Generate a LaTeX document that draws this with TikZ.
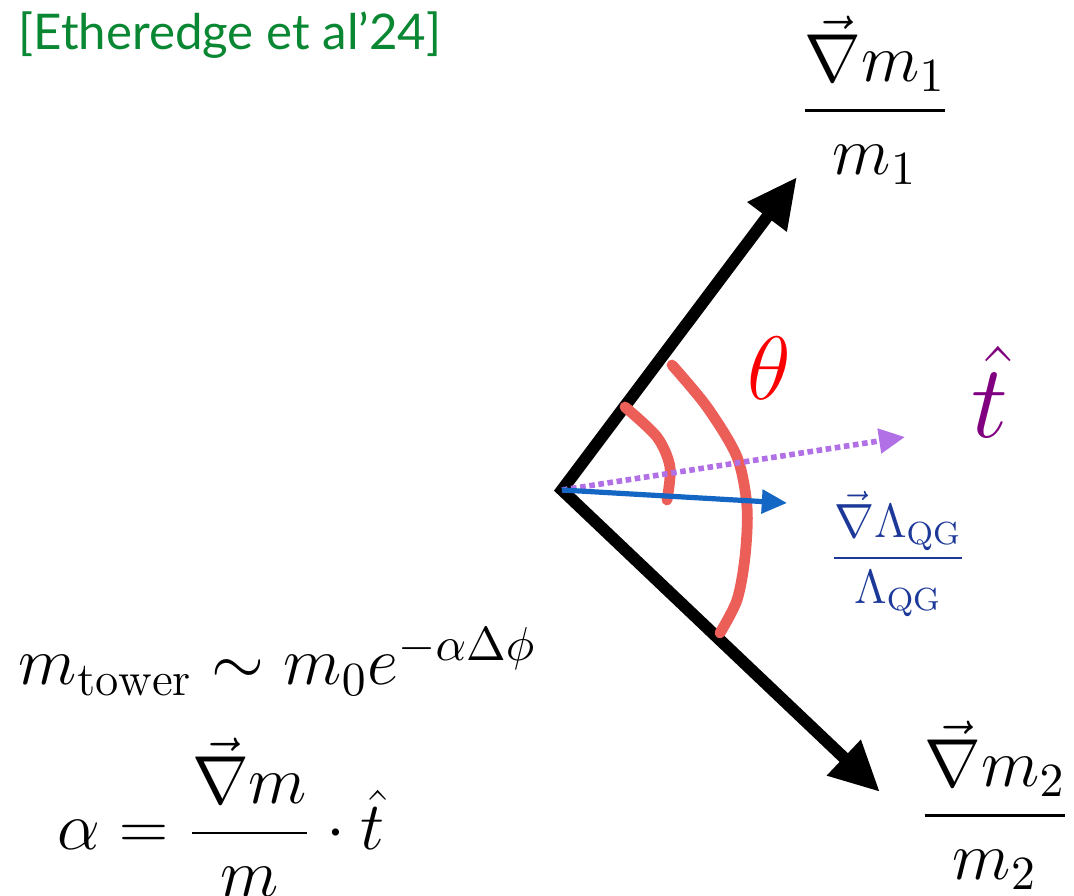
\RequirePackage{fix-cm}
\documentclass[tikz,border=0pt]{standalone}
\usepackage{amsmath}
\usepackage{fontspec}
\newfontfamily\fonteRef{Lato}
\usepackage{tikz}
\usetikzlibrary{arrows.meta}
\definecolor{corRef}{RGB}{10,135,50}
\definecolor{corArco}{RGB}{236,94,88}
\definecolor{corTheta}{RGB}{250,0,0}
\definecolor{corT}{RGB}{128,0,128}
\definecolor{corTraco}{RGB}{178,112,230}
\definecolor{corLambda}{RGB}{20,102,196}
\definecolor{corLambdaTxt}{RGB}{28,56,152}

\begin{document}
\begin{tikzpicture}[x=0.25pt, y=-0.25pt, every node/.style={inner sep=0pt}]
    \tikzstyle{grad}=[line width=3pt, line join=miter,
      {Triangle[length=12.5pt, width=11.5pt]}-{Triangle[length=12.5pt, width=11.5pt]}]
    \tikzstyle{arco}=[corArco, line width=2.7pt, line cap=round]
    \tikzstyle{formula}=[font=\fontsize{17}{20}\selectfont]
    \useasboundingbox (0,0) rectangle (1074,896);
    % vectors
    \coordinate (o) at (562,490);
    \coordinate (g1) at (797,177);
    \coordinate (g2) at (880,792);
    \coordinate (tt) at (905,437);
    \coordinate (gl) at (787,503);
    \draw[grad] (g1) -- (o) -- (g2);
    \draw[arco] plot[smooth] coordinates {(625,407) (657,437) (670,467) (667,500)};
    \draw[arco] plot[smooth] coordinates {(672,365) (707,407) (737,457) (747,507) (745,557) (737,600) (720,633)};
    \draw[corTraco, line width=1.4pt, dash pattern=on 1.4pt off 0.9pt,
      -{Triangle[length=6.5pt, width=6pt]}] (o) -- (tt);
    \draw[corLambda, line width=1.3pt, -{Triangle[length=6.3pt, width=5.8pt]}] (o) -- (gl);
    % labels
    \node[formula] (n1) at (875,100) {$\dfrac{\vec{\nabla} m_1}{m_1}$};
    \node[formula] (n2) at (995,805) {$\dfrac{\vec{\nabla} m_2}{m_2}$};
    \node[text=corLambdaTxt, font=\fontsize{12}{14}\selectfont] (nl) at (898,554)
      {$\dfrac{\vec{\nabla}\Lambda_{\mathrm{QG}}}{\Lambda_{\mathrm{QG}}}$};
    \node[text=corTheta, font=\fontsize{22.5}{26}\selectfont] (theta) at (769,368) {$\theta$};
    \node[text=corT, font=\fontsize{26}{30}\selectfont] (that) at (990,392) {$\hat{t}$};
    \node[formula, anchor=base west] (torre) at (18,685) {$m_{\mathrm{tower}}\sim m_0e^{-\alpha\Delta\phi}$};
    \node[formula, anchor=base west] (alfa) at (57,850) {$\alpha=\dfrac{\vec{\nabla} m}{m}\cdot\hat{t}$};
    \node[anchor=base west, text=corRef, font=\fonteRef\fontsize{12.3}{14}\selectfont] (ref) at (18,50) {[Etheredge et al’24]};
\end{tikzpicture}
\end{document}
